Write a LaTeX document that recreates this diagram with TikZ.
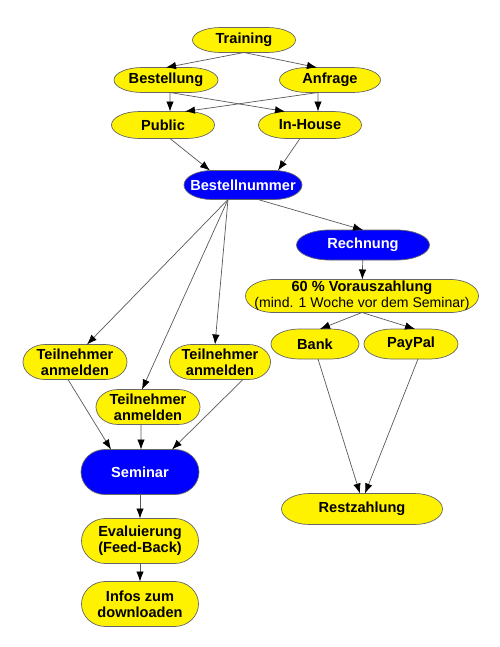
\documentclass[tikz,border=0pt]{standalone}
\usepackage{fontspec}
\setmainfont{Liberation Sans}
\usetikzlibrary{arrows.meta}

% pill shape: rectangle with elliptic ends
\newdimen\pillxa \newdimen\pillya \newdimen\pillxb \newdimen\pillyb
\newdimen\pillxc \newdimen\pillxd \newdimen\pillrx \newdimen\pillry
\pgfkeys{/tikz/pill rx/.initial=5.6mm}
\makeatletter
\pgfdeclareshape{pill}{
  \inheritsavedanchors[from=rectangle]
  \inheritanchorborder[from=rectangle]
  \inheritanchor[from=rectangle]{center}
  \inheritanchor[from=rectangle]{text}
  \inheritanchor[from=rectangle]{base}
  \inheritanchor[from=rectangle]{mid}
  \inheritanchor[from=rectangle]{north}
  \inheritanchor[from=rectangle]{south}
  \inheritanchor[from=rectangle]{east}
  \inheritanchor[from=rectangle]{west}
  \inheritanchor[from=rectangle]{north east}
  \inheritanchor[from=rectangle]{north west}
  \inheritanchor[from=rectangle]{south east}
  \inheritanchor[from=rectangle]{south west}
  \backgroundpath{%
    \southwest \pillxa=\pgf@x \pillya=\pgf@y
    \northeast \pillxb=\pgf@x \pillyb=\pgf@y
    \pillry=\pillyb \advance\pillry by -\pillya \pillry=.5\pillry
    \pgfmathsetlength\pillrx{\pgfkeysvalueof{/tikz/pill rx}}%
    \pillxc=\pillxa \advance\pillxc by \pillrx
    \pillxd=\pillxb \advance\pillxd by -\pillrx
    \pgfpathmoveto{\pgfqpoint{\pillxc}{\pillyb}}%
    \pgfpathlineto{\pgfqpoint{\pillxd}{\pillyb}}%
    \pgfpatharc{90}{-90}{\pillrx and \pillry}%
    \pgfpathlineto{\pgfqpoint{\pillxc}{\pillya}}%
    \pgfpatharc{270}{90}{\pillrx and \pillry}%
    \pgfpathclose
  }
}
\makeatother

\begin{document}
\begin{tikzpicture}[
    x=0.2mm, y=-0.2mm,
    box/.style={pill, draw=black!60, fill=yellow, inner sep=0pt, outer sep=0pt, align=center, font=\bfseries\fontsize{8.3}{9.2}\selectfont},
    bluebox/.style={box, fill=blue, text=white},
    arr/.style={-{Latex[length=2mm,width=1.5mm,color=black]}, draw=black!65, thin}
]
\useasboundingbox (0,0) rectangle (500,647);
% Anfrage / Bestellung
\node[box, minimum width=20.6mm, minimum height=5mm] (trn) at (244,40) {Training};
\node[box, minimum width=20.8mm, minimum height=5mm] (best) at (166,80) {Bestellung};
\node[box, minimum width=20.2mm, minimum height=5mm] (anf) at (330,80) {Anfrage};
\node[box, minimum width=20.6mm, minimum height=5.4mm] (pub) at (163,125) {Public};
\node[box, minimum width=20.6mm, minimum height=5.4mm] (inh) at (310,125) {In-House};
\node[bluebox, minimum width=23.6mm, minimum height=5.8mm] (bnr) at (243,185) {Bestellnummer};
% Zahlung
\node[bluebox, minimum width=26.6mm, minimum height=6mm, pill rx=6.6mm] (rech) at (363,245) {Rechnung};
\node[box, minimum width=46.6mm, minimum height=6.6mm] (vor) at (362,296) {60 \% Vorauszahlung\\{\mdseries\fontsize{8}{9}\selectfont (mind. 1 Woche vor dem Seminar)}};
\node[box, minimum width=17.6mm, minimum height=6mm] (bank) at (315,344) {Bank};
\node[box, minimum width=18.8mm, minimum height=6mm] (pp) at (411,344) {PayPal};
\node[box, minimum width=32.2mm, minimum height=6.2mm] (rest) at (362,509) {Restzahlung};
% Seminar
\node[box, minimum width=20.8mm, minimum height=7mm, pill rx=4.4mm] (tn1) at (75,362) {Teilnehmer\\anmelden};
\node[box, minimum width=20.8mm, minimum height=7mm, pill rx=4.4mm] (tn2) at (148,407) {Teilnehmer\\anmelden};
\node[box, minimum width=20.2mm, minimum height=7mm, pill rx=4.4mm] (tn3) at (220,362) {Teilnehmer\\anmelden};
\node[bluebox, minimum width=23.6mm, minimum height=9mm, pill rx=4.8mm] (sem) at (140,472) {Seminar};
\node[box, minimum width=23.4mm, minimum height=9mm, pill rx=4.8mm] (eval) at (140,541) {Evaluierung\\(Feed-Back)};
\node[box, minimum width=23.4mm, minimum height=9mm, pill rx=4.8mm] (info) at (140,604) {Infos zum\\downloaden};

\draw[arr] (trn.south) -- (best.north);
\draw[arr] (trn.south) -- ([xshift=-2.6mm]anf.north);
\draw[arr] ([xshift=0.8mm]best.south) -- ([xshift=1.4mm]pub.north);
\draw[arr] ([xshift=0.8mm]best.south) -- ([xshift=-5mm]inh.north);
\draw[arr] ([xshift=-2.4mm]anf.south) -- ([xshift=1.6mm]inh.north);
\draw[arr] ([xshift=-2.4mm]anf.south) -- ([xshift=4.4mm]pub.north);
\draw[arr] ([xshift=1.4mm]pub.south) -- ([xshift=-6.6mm]bnr.north);
\draw[arr] ([xshift=-2mm]inh.south) -- ([xshift=7mm]bnr.north);
\draw[arr] ([xshift=3mm]bnr.south) -- (rech.north);
\draw[arr] ([xshift=-3mm]bnr.south) -- ([xshift=2.4mm]tn1.north);
\draw[arr] ([xshift=-3mm]bnr.south) -- ([xshift=-1.2mm]tn2.north);
\draw[arr] ([xshift=-3mm]bnr.south) -- ([xshift=-1mm]tn3.north);
\draw[arr] (rech) -- (vor);
\draw[arr] (vor.south) -- ([xshift=1mm]bank.north);
\draw[arr] (vor.south) -- ([xshift=0.8mm]pp.north);
\draw[arr] ([xshift=0.6mm]bank.south) -- ([xshift=-0.4mm]rest.north);
\draw[arr] ([xshift=1.4mm]pp.south) -- ([xshift=0.6mm]rest.north);
\draw[arr] ([xshift=-1.4mm]tn1.south) -- ([xshift=-5.8mm]sem.north);
\draw[arr] ([xshift=-1.4mm]tn2.south) -- ([xshift=0.2mm]sem.north);
\draw[arr] ([xshift=4.6mm]tn3.south) -- ([xshift=6.4mm]sem.north);
\draw[arr] (sem) -- (eval);
\draw[arr] (eval) -- (info);
\end{tikzpicture}
\end{document}
